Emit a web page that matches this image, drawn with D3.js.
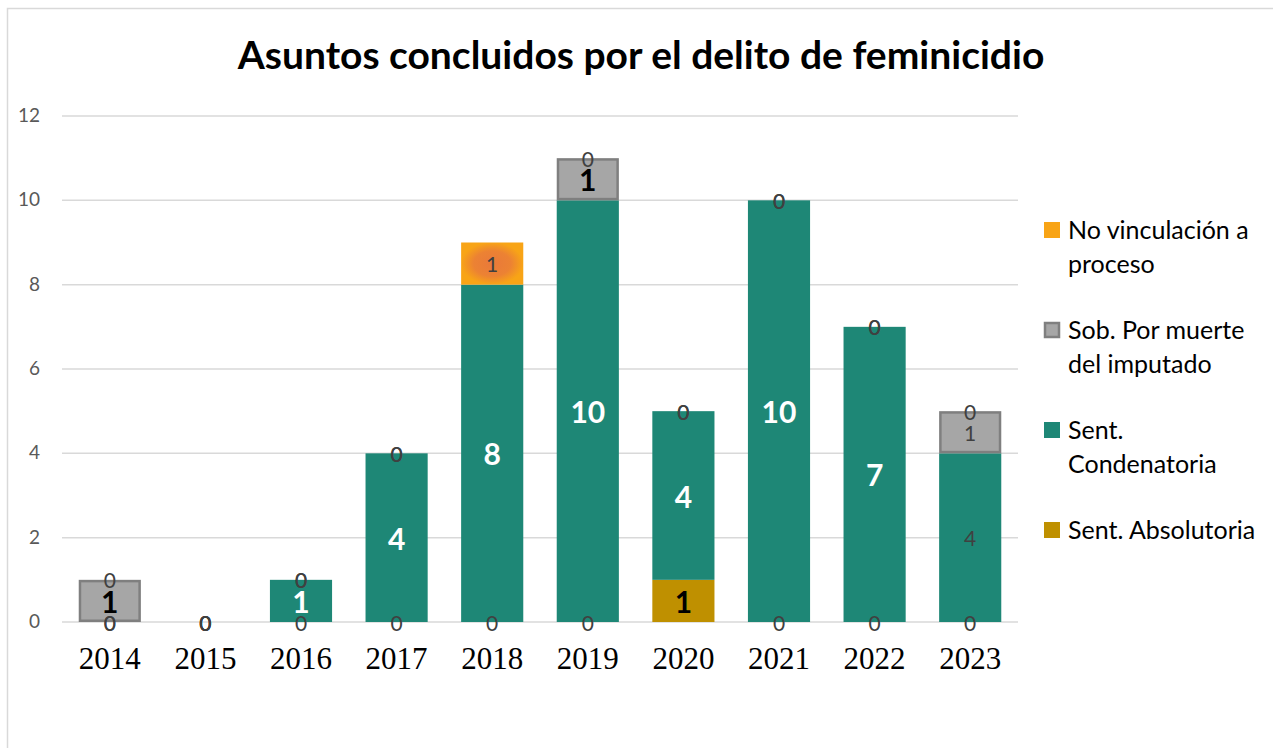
<!DOCTYPE html>
<html>
<head>
<meta charset="utf-8">
<script src="https://cdn.jsdelivr.net/npm/d3@7"></script>
<style>
  body { margin: 0; background: #fff; }
  text { font-family: Lato, "Open Sans", sans-serif; }
  text.year { font-family: "Liberation Serif", "DejaVu Serif", serif; }
</style>
</head>
<body>
<div id="chart"></div>
<script>
const width = 1273;
const height = 748;

// datos
const years = ["2014", "2015", "2016", "2017", "2018", "2019", "2020", "2021", "2022", "2023"];
const seriesNames = ["Sent. Absolutoria", "Sent. Condenatoria", "Sob. Por muerte del imputado", "No vinculación a proceso"];
const absolutoria = [0, 0, 0, 0, 0, 0, 1, 0, 0, 0];
const condenatoria = [0, 0, 1, 4, 8, 10, 4, 10, 7, 4];
const sobreseimiento = [1, 0, 0, 0, null, 1, 0, 0, 0, 1];
const noVinculacion = [0, 0, 0, 0, 1, 0, 0, 0, 0, 0];
const yTicks = [0, 2, 4, 6, 8, 10, 12];

const colors = ["#BF9000", "#1E8776", "#A6A6A6", "#F5A31C"];

// estilo de etiqueta: "w" blanca negrita, "b" negra negrita, "g" gris normal
const labelStyle = [
  [null, null, "b", null],
  [null, null, null, null],
  [null, "w", null, null],
  [null, "w", null, null],
  [null, "w", null, "g"],
  [null, "w", "b", null],
  ["b", "w", null, null],
  [null, "w", null, null],
  [null, "w", null, null],
  [null, "g", "g", null]
];

const svg = d3.select("#chart")
  .append("svg")
  .attr("width", width)
  .attr("height", height);

// borde del gráfico
svg.append("rect")
  .attr("x", 7.5).attr("y", 8.5)
  .attr("width", width + 10).attr("height", height + 10)
  .attr("fill", "none")
  .attr("stroke", "#D9D9D9")
  .attr("stroke-width", 1.5);

const defs = svg.append("defs");
const grad = defs.append("radialGradient").attr("id", "naranja");
grad.append("stop").attr("offset", "0%").attr("stop-color", "#E9793A");
grad.append("stop").attr("offset", "60%").attr("stop-color", "#EC8233");
grad.append("stop").attr("offset", "100%").attr("stop-color", "#F8A416");

svg.append("text")
  .attr("x", 641).attr("y", 69)
  .attr("text-anchor", "middle")
  .attr("font-size", 39)
  .attr("font-weight", "bold")
  .attr("fill", "#000")
  .text("Asuntos concluidos por el delito de feminicidio");

const x = d3.scaleBand()
  .domain(years)
  .range([62, 1018])
  .paddingInner(0.35)
  .paddingOuter(0.175);

const y = d3.scaleLinear()
  .domain([0, 12])
  .range([622, 116]);

// rejilla
svg.append("g")
  .selectAll("line")
  .data(yTicks)
  .join("line")
  .attr("x1", 62).attr("x2", 1018)
  .attr("y1", d => y(d)).attr("y2", d => y(d))
  .attr("stroke", "#D9D9D9")
  .attr("stroke-width", 1.5);

svg.append("g")
  .selectAll("text")
  .data(yTicks)
  .join("text")
  .attr("x", 40)
  .attr("y", d => y(d) + 6)
  .attr("text-anchor", "end")
  .attr("font-size", 19)
  .attr("fill", "#595959")
  .text(d => d);

svg.append("g")
  .selectAll("text")
  .data(years)
  .join("text")
  .attr("class", "year")
  .attr("x", d => x(d) + x.bandwidth() / 2)
  .attr("y", 669)
  .attr("text-anchor", "middle")
  .attr("font-size", 31)
  .attr("fill", "#000")
  .text(d => d);

// apilar
const table = years.map((yr, i) => ({
  year: yr,
  s0: absolutoria[i],
  s1: condenatoria[i],
  s2: sobreseimiento[i],
  s3: noVinculacion[i]
}));
const stack = d3.stack()
  .keys(["s0", "s1", "s2", "s3"])
  .value((d, k) => d[k] || 0);
const stacked = stack(table);

const bars = svg.append("g");
stacked.forEach((layer, si) => {
  bars.selectAll(null)
    .data(layer.map((d, i) => ({ d, i })).filter(o => o.d[1] > o.d[0]))
    .join("rect")
    .attr("x", o => x(years[o.i]) + (si === 2 ? 1.25 : 0))
    .attr("y", o => y(o.d[1]) + (si === 2 ? 1.25 : 0))
    .attr("width", x.bandwidth() - (si === 2 ? 2.5 : 0))
    .attr("height", o => y(o.d[0]) - y(o.d[1]) - (si === 2 ? 2.5 : 0))
    .attr("fill", si === 3 ? "url(#naranja)" : colors[si])
    .attr("stroke", si === 2 ? "#7F7F7F" : "none")
    .attr("stroke-width", 2.5);
});

// etiquetas
const labels = svg.append("g");
stacked.forEach((layer, si) => {
  layer.forEach((d, i) => {
    const raw = table[i][layer.key];
    if (raw === null) return;
    const cx = x(years[i]) + x.bandwidth() / 2;
    const cy = y((d[0] + d[1]) / 2);
    const st = labelStyle[i][si];
    const t = labels.append("text")
      .attr("x", cx)
      .attr("y", cy)
      .attr("text-anchor", "middle")
      .attr("dominant-baseline", "central")
      .text(raw);
    if (raw === 0) {
      t.attr("font-size", 21).attr("fill", "#404040");
    } else if (st === "w") {
      t.attr("font-size", 30).attr("font-weight", "bold").attr("fill", "#fff");
    } else if (st === "b") {
      t.attr("font-size", 30).attr("font-weight", "bold").attr("fill", "#000");
    } else {
      t.attr("font-size", 21).attr("fill", "#404040");
    }
  });
});

// leyenda
const legendItems = [
  { si: 3, lines: ["No vinculación a", "proceso"], y: 231 },
  { si: 2, lines: ["Sob. Por muerte", "del imputado"], y: 331 },
  { si: 1, lines: ["Sent.", "Condenatoria"], y: 431 },
  { si: 0, lines: ["Sent. Absolutoria"], y: 531 }
];
const legend = svg.append("g");
legendItems.forEach(item => {
  legend.append("rect")
    .attr("x", item.si === 2 ? 1045 : 1044)
    .attr("y", item.y - 9 + (item.si === 2 ? 1 : 0))
    .attr("width", item.si === 2 ? 14 : 16)
    .attr("height", item.si === 2 ? 14 : 16)
    .attr("fill", item.si === 3 ? "#F8A416" : colors[item.si])
    .attr("stroke", item.si === 2 ? "#7F7F7F" : "none")
    .attr("stroke-width", 2.5);
  item.lines.forEach((ln, k) => {
    legend.append("text")
      .attr("x", 1068)
      .attr("y", item.y + 8 + k * 34)
      .attr("font-size", 25)
      .attr("fill", "#000")
      .text(ln);
  });
});
</script>
</body>
</html>
